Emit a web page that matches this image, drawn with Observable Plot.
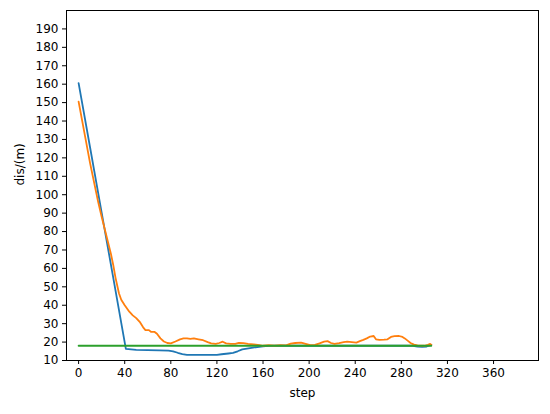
<!DOCTYPE html>
<html><head><meta charset="utf-8">
<script src="https://cdn.jsdelivr.net/npm/d3@7"></script>
<script src="https://cdn.jsdelivr.net/npm/@observablehq/plot@0.6"></script>
<style>body{margin:0;background:#fff}</style>
</head><body><div id="chart"></div>
<script>
// Blue series
const blueSteps = [0,10,20,30,41,50,60,70,78,82,86,90,94,100,110,120,124,130,134,138,142,146,150,155,160,165,170,180,200,220,240,260,280,290,294,298,302,306];
const blueValues = [160.6,125.5,90.3,55.1,16.3,15.8,15.6,15.5,15.4,15,14.2,13.5,13.1,13,13,13.1,13.4,13.8,14.1,15,16,16.5,16.9,17.3,17.7,17.9,18,18,18,18,18,18,18,18,17.6,17.4,17.6,18.5];
// Orange series
const orangeSteps = [0,10,17,20,24,28,30,32,35,37,40,44,47,50,53,56,58,61,63,66,68,71,74,77,80,84,88,91,94,97,100,104,108,112,115,119,122,125,128,132,136,139,143,147,152,157,160,165,170,175,180,184,188,193,197,201,205,209,213,216,219,222,226,230,233,237,241,244,247,250,253,256,258,261,265,268,271,274,278,281,283,286,288,291,294,297,300,303,305,306];
const orangeValues = [150.5,117,96,88,78,68,62,55,46.5,43,40,36.5,34.5,33,31,28,26.5,26.5,25.5,25.5,24.5,22,20.3,19.5,19.3,20.3,21.5,22,22,21.7,22,21.5,21,20,19.3,19,19.5,20.2,19.3,19,19,19.6,19.4,19,18.8,18.4,18,18.3,18,18.3,18.2,19.2,19.5,19.7,19,18.3,18.5,19.3,20.2,20.5,19.5,19,19.4,20,20.3,20,19.7,20.5,21.2,22,23,23.3,21.5,21.2,21.3,21.5,22.8,23.2,23.3,22.8,22,20.5,19.5,18.6,18.2,18,18,18.5,19,18.6];
// Green series
const greenSteps = [0,306];
const greenValues = [18,18];
// Tick labels
const xTicks = [0,40,80,120,160,200,240,280,320,360];
const yTicks = [10,20,30,40,50,60,70,80,90,100,110,120,130,140,150,160,170,180,190];
const xLabel = "step";
const yLabel = "dis/(m)";

const toRows = (s, v) => s.map((d, i) => ({step: d, dis: v[i]}));
const blue = toRows(blueSteps, blueValues);
const orange = toRows(orangeSteps, orangeValues);
const green = toRows(greenSteps, greenValues);

const chart = Plot.plot({
  width: 550,
  height: 414,
  marginLeft: 66,
  marginRight: 12,
  marginTop: 10,
  marginBottom: 54,
  style: {fontFamily: "DejaVu Sans", fontSize: "12px", color: "#000", background: "#fff"},
  x: {domain: [-10.5, 399], label: null},
  y: {domain: [10, 200], label: null},
  marks: [
    Plot.line(blue, {x: "step", y: "dis", stroke: "#1f77b4", strokeWidth: 1.8}),
    Plot.line(orange, {x: "step", y: "dis", stroke: "#ff7f0e", strokeWidth: 1.8}),
    Plot.line(green, {x: "step", y: "dis", stroke: "#2ca02c", strokeWidth: 1.8}),
    Plot.axisX({ticks: xTicks, tickSize: 4, tickPadding: 4, fontSize: 12, stroke: "#000", fill: "#000", label: null}),
    Plot.axisY({ticks: yTicks, tickSize: 4, tickPadding: 4, fontSize: 12, stroke: "#000", fill: "#000", label: null}),
    Plot.frame({stroke: "#000", strokeWidth: 1}),
    Plot.text([xLabel], {frameAnchor: "bottom", dy: 33, text: d => d, fontSize: 12, fill: "#000", lineAnchor: "middle"}),
    Plot.text([yLabel], {frameAnchor: "left", dx: -46, rotate: -90, text: d => d, fontSize: 12, fill: "#000", lineAnchor: "middle"})
  ]
});
document.getElementById("chart").appendChild(chart);
</script>
</body></html>
